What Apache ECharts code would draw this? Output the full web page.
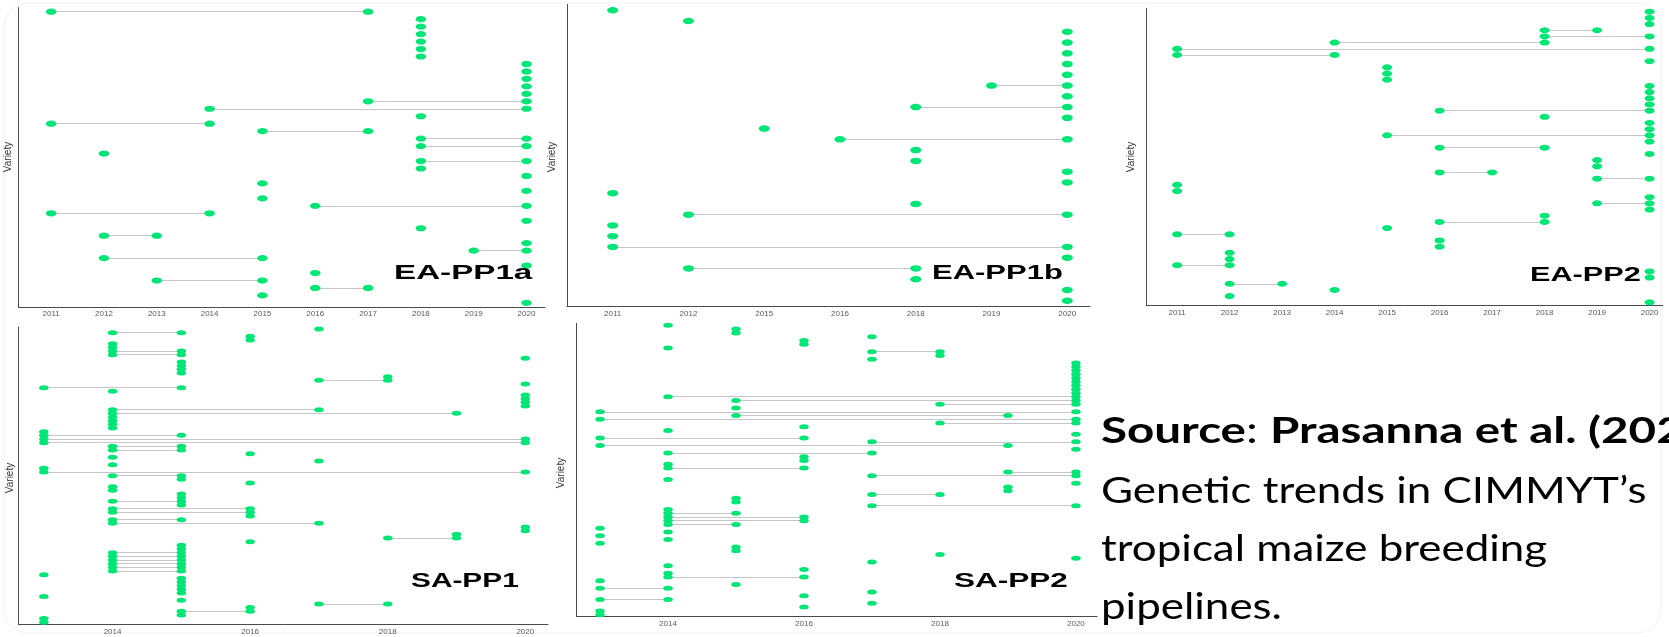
<!DOCTYPE html>
<html>
<head>
<meta charset="utf-8">
<script src="https://cdn.jsdelivr.net/npm/echarts@6/dist/echarts.min.js"></script>
<style>
html,body{margin:0;padding:0;background:#fff;}
#chart{width:1669px;height:637px;}
</style>
</head>
<body>
<div id="chart"></div>
<script>
// ---- tick labels ----
const eaYears = [2011, 2012, 2013, 2014, 2015, 2016, 2017, 2018, 2019, 2020];
const pp1bYears = [2011, 2012, 2015, 2016, 2018, 2019, 2020];
const saYears = [2014, 2016, 2018, 2020];

// ---- panel titles ----
const panelNames = ['EA-PP1a', 'EA-PP1b', 'EA-PP2', 'SA-PP1', 'SA-PP2'];

// ---- varieties, top to bottom: [first year] or [first year, last year] ----
const eaPP1a = [
  [2011,2017],[2018],[2018],[2018],[2018],[2018],[2018],
  [2020],[2020],[2020],[2020],[2020],
  [2017,2020],[2014,2020],[2018],[2011,2014],[2015,2017],
  [2018,2020],[2018,2020],[2012],[2018,2020],[2018],[2020],
  [2015],[2020],[2015],[2016,2020],[2011,2014],[2020],[2018],
  [2012,2013],[2020],[2019,2020],[2012,2015],[2020],[2016],
  [2013,2015],[2016,2017],[2015],[2020]
];
const eaPP1b = [
  [2011],[2012],[2020],[2020],[2020],[2020],[2020],[2019,2020],[2020],
  [2018,2020],[2020],[2015],[2016,2020],[2018],[2018],[2020],[2020],
  [2011],[2018],[2012,2020],[2011],[2011],[2011,2020],[2020],
  [2012,2018],[2018],[2020],[2020]
];
const eaPP2 = [
  [2020],[2020],[2020],[2018,2019],[2018,2020],[2014,2018],[2011,2020],[2011,2014],[2020],[2015],
  [2015],[2015],[2020],[2020],[2020],[2020],[2016,2020],[2018],[2020],[2020],
  [2015,2020],[2020],[2016,2018],[2020],[2019],[2019],[2016,2017],[2019,2020],[2011],[2011],
  [2020],[2019,2020],[2020],[2018],[2016,2018],[2015],[2011,2012],[2016],[2016],[2012],
  [2012],[2011,2012],[2020],[2020],[2012,2013],[2014],[2012],[2020]
];
const saPP1 = [
  [2017],[2014,2015],[2016],[2016],[2014],[2014],[2014,2015],[2014,2015],[2020],
  [2015],[2015],[2015],[2015],[2018],[2017,2018],[2020],[2013,2015],[2014],
  [2020],[2020],[2020],[2020],[2014,2017],[2014,2019],[2014],[2014],[2014],[2014],
  [2013],[2013,2015],[2013,2020],[2013,2020],[2014,2015],[2014,2015],[2016],[2014],
  [2017],[2014],[2013],[2013,2020],[2014,2015],[2015],[2016],[2014],[2014],
  [2015],[2015],[2014,2015],[2015],[2014,2016],[2014,2016],[2016],[2014,2015],
  [2014,2017],[2020],[2020],[2019],[2018,2019],[2016],[2015],[2015],
  [2014,2015],[2014,2015],[2014,2015],[2014,2015],[2014,2015],[2014,2015],
  [2013],[2015],[2015],[2015],[2015],[2015],[2013],[2015],[2017,2018],
  [2016],[2015,2016],[2015],[2013],[2013]
];
const saPP2 = [
  [2014],[2015],[2015],[2017],[2016],[2016],[2014],[2017,2018],[2018],[2017],
  [2020],[2020],[2020],[2020],[2020],[2020],[2020],[2020],[2020],
  [2014,2020],[2015,2020],[2018,2020],[2015],[2013,2020],[2015,2019],[2013,2020],
  [2018,2020],[2016],[2014],[2020],[2013,2016],[2017,2020],[2013,2019],[2020],
  [2014,2017],[2016],[2016],[2014],[2014,2016],[2019,2020],[2017,2020],[2014],
  [2020],[2019],[2019],[2017,2018],[2015],[2015],[2017,2020],[2014],
  [2014,2015],[2014,2016],[2014,2016],[2014,2015],[2013],[2014],[2013],[2014],
  [2013],[2015],[2015],[2018],[2020],[2017],[2014],[2016],[2014],[2014,2016],
  [2013],[2015],[2013,2014],[2017],[2016],[2013,2014],[2017],[2016],[2013],[2013]
];

// ---- layout (pixels) ----
const panels = [
  {rows: eaPP1a, xmap: y => y, ticks: eaYears, grid: {left: 18.6, top: 7.6, width: 526.4, height: 299.4}, xmin: 2010.384, xmax: 2020.35, split: 10, sym: [10.5, 6.2]},
  {rows: eaPP1b, xmap: y => pp1bYears.indexOf(y), ticks: pp1bYears, cat: true, grid: {left: 567, top: 4.4, width: 523, height: 302.2}, xmin: -0.603, xmax: 6.30, split: 7, sym: [11, 6.5]},
  {rows: eaPP2, xmap: y => y, ticks: eaYears, grid: {left: 1146.3, top: 8.3, width: 516.4, height: 297.4}, xmin: 2010.413, xmax: 2020.25, split: 10, sym: [10, 6]},
  {rows: saPP1, xmap: y => y, ticks: saYears, grid: {left: 18.6, top: 327, width: 529.4, height: 297.3}, xmin: 2012.634, xmax: 2020.33, split: 4, sym: [9.5, 5]},
  {rows: saPP2, xmap: y => y, ticks: saYears, grid: {left: 576.5, top: 323.3, width: 520.5, height: 293.4}, xmin: 2012.654, xmax: 2020.31, split: 4, sym: [9.5, 5]}
];

const GREEN = '#00E676';
const grids = [], xAxes = [], yAxes = [], series = [];
panels.forEach((p, i) => {
  grids.push(Object.assign({containLabel: false}, p.grid));
  xAxes.push({
    type: 'value', gridIndex: i, min: p.xmin, max: p.xmax, splitNumber: p.split,
    axisLine: {show: true, onZero: false, lineStyle: {color: '#4a4a4a', width: 1}},
    axisTick: {show: false}, splitLine: {show: false},
    axisLabel: {
      show: true, fontSize: 8, color: '#5a5a5a', margin: 3, fontFamily: 'Liberation Sans',
      formatter: v => {
        const r = Math.round(v);
        if (Math.abs(v - r) > 1e-6) return '';
        if (p.cat) return (r >= 0 && r < p.ticks.length) ? String(p.ticks[r]) : '';
        return p.ticks.indexOf(r) >= 0 ? String(r) : '';
      }
    }
  });
  const n = p.rows.length;
  yAxes.push({
    type: 'value', gridIndex: i, inverse: true, min: -0.55, max: n - 1 + 0.55,
    axisLine: {show: true, onZero: false, lineStyle: {color: '#4a4a4a', width: 1}},
    axisTick: {show: false}, axisLabel: {show: false}, splitLine: {show: false}
  });
  const pts = [], segs = [];
  p.rows.forEach((r, k) => {
    r.forEach(yr => pts.push([p.xmap(yr), k]));
    if (r.length === 2) segs.push({coords: [[p.xmap(r[0]), k], [p.xmap(r[1]), k]]});
  });
  series.push({
    type: 'lines', coordinateSystem: 'cartesian2d', xAxisIndex: i, yAxisIndex: i,
    data: segs, silent: true, z: 1,
    lineStyle: {color: '#c6c6c6', width: 1, opacity: 1, curveness: 0}
  });
  series.push({
    type: 'scatter', xAxisIndex: i, yAxisIndex: i, data: pts, z: 2,
    symbol: 'circle', symbolSize: p.sym,
    itemStyle: {color: GREEN, opacity: 1}
  });
});

// ---- graphic texts ----
const graphic = [
  {type: 'rect', shape: {x: 4, y: 3, width: 1657, height: 630, r: 24}, style: {fill: 'none', stroke: '#f2f2f2', lineWidth: 1}, z: 0, silent: true}
];
const varietyPos = [[8, 157], [552, 157], [1131, 157], [10, 478], [561, 473]];
varietyPos.forEach(([x, y]) => graphic.push({
  type: 'text', x: x, y: y, rotation: Math.PI / 2,
  style: {text: 'Variety', font: '10px "Liberation Sans"', fill: '#333', textAlign: 'center', textVerticalAlign: 'middle'}
}));
const titlePos = [[394, 273, 1.58], [932, 273, 1.475], [1530, 275, 1.46], [411, 581, 1.42], [954, 581, 1.5]];
titlePos.forEach(([x, y, s], i) => graphic.push({
  type: 'text', x: x, y: y, scaleX: s, z: 10,
  style: {text: panelNames[i], font: 'bold 21px "Liberation Sans"', fill: '#000', textAlign: 'left', textVerticalAlign: 'middle'}
}));
const sourceLines = [
  '{b|Source}{n|: }{b|Prasanna et al. (2022)}',
  '{n|Genetic trends in CIMMYT’s}',
  '{n|tropical maize breeding}',
  '{n|pipelines.}'
];
const srcBase = [449, 509, 567, 625];
const srcScale = [1.32, 1.22, 1.22, 1.22];
sourceLines.forEach((t, i) => graphic.push({
  type: 'text', x: 1101, y: srcBase[i], scaleX: srcScale[i], z: 10,
  style: {
    text: t, textAlign: 'left', textVerticalAlign: 'bottom',
    rich: {
      b: {fontFamily: 'Lato', fontWeight: 'bold', fontSize: 36, fill: '#000', color: '#000'},
      n: {fontFamily: 'Lato', fontWeight: 'normal', fontSize: 36, fill: '#000', color: '#000'}
    }
  }
}));

const chart = echarts.init(document.getElementById('chart'), null, {renderer: 'canvas'});
chart.setOption({
  animation: false,
  backgroundColor: '#ffffff',
  grid: grids, xAxis: xAxes, yAxis: yAxes, series: series, graphic: graphic
});
</script>
</body>
</html>
